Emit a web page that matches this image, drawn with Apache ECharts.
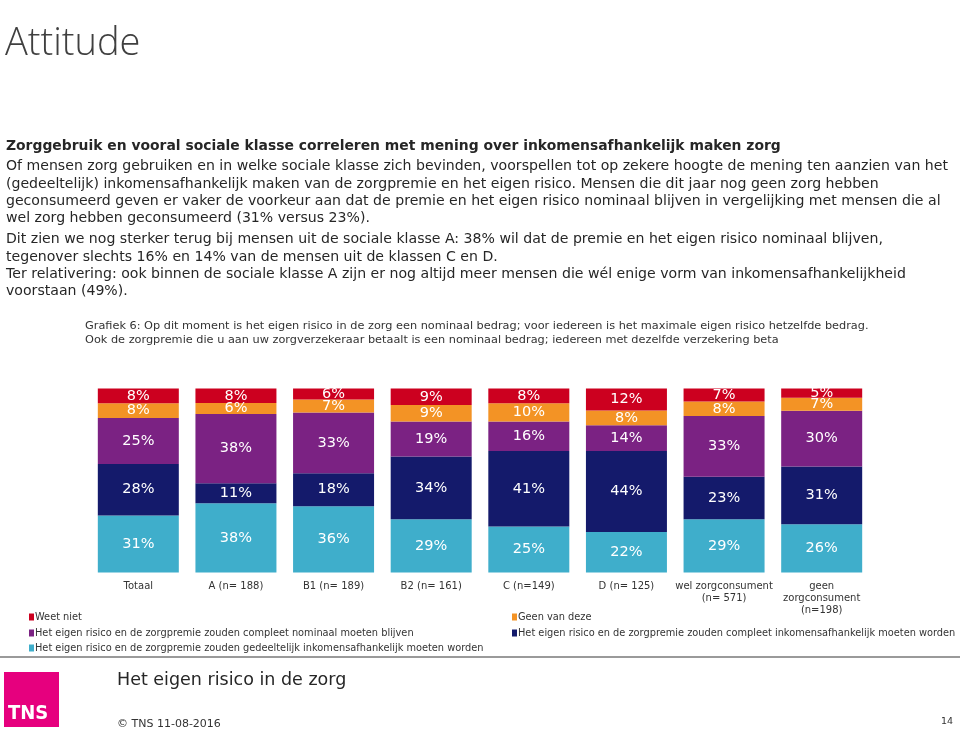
<!DOCTYPE html>
<html>
<head>
<meta charset="utf-8">
<script src="https://cdn.jsdelivr.net/npm/echarts@6/dist/echarts.min.js"></script>
<style>
html,body{margin:0;padding:0;background:#fff;}
#chart{width:960px;height:731px;}
</style>
</head>
<body>
<div id="chart"></div>
<script>
const categories = ['Totaal','A (n= 188)','B1 (n= 189)','B2 (n= 161)','C (n=149)','D (n= 125)','wel zorgconsument\n(n= 571)','geen\nzorgconsument\n(n=198)'];
const weetNiet      = [8, 8, 6, 9, 8, 12, 7, 5];
const geenVanDeze   = [8, 6, 7, 9, 10, 8, 8, 7];
const nominaal      = [25, 38, 33, 19, 16, 14, 33, 30];
const inkomensafh   = [28, 11, 18, 34, 41, 44, 23, 31];
const gedeeltelijk  = [31, 38, 36, 29, 25, 22, 29, 26];

const seriesNames = [
  'Het eigen risico en de zorgpremie zouden gedeeltelijk inkomensafhankelijk moeten worden',
  'Het eigen risico en de zorgpremie zouden compleet inkomensafhankelijk moeten worden',
  'Het eigen risico en de zorgpremie zouden compleet nominaal moeten blijven',
  'Geen van deze',
  'Weet niet'
];
const seriesValues = [gedeeltelijk, inkomensafh, nominaal, geenVanDeze, weetNiet];
const seriesColors = ['#3FAECB', '#141A6B', '#7B2283', '#F39325', '#CC001F'];

// 100% stacked: each column normalised to its own total
const totals = categories.map((c, i) => seriesValues.reduce((s, arr) => s + arr[i], 0));

const bodyFont = '"DejaVu Sans", Verdana, sans-serif';

const series = seriesValues.map((vals, k) => ({
  name: seriesNames[k],
  type: 'bar',
  stack: 'total',
  barWidth: 81,
  itemStyle: { color: seriesColors[k] },
  label: {
    show: true,
    position: 'inside',
    color: '#fff',
    fontFamily: bodyFont,
    fontSize: 14.5,
    formatter: p => vals[p.dataIndex] + '%'
  },
  emphasis: { disabled: true },
  data: vals.map((v, i) => ({ value: v / totals[i] * 100 }))
}));

function legendAt(name, left, top) {
  return {
    data: [name],
    left: left, top: top,
    orient: 'horizontal',
    icon: 'rect',
    itemWidth: 5, itemHeight: 7,
    selectedMode: false,
    textStyle: { fontFamily: bodyFont, fontSize: 9.8, color: '#333', padding: [0,0,0,-4] }
  };
}

function txt(text, x, y, size, opts) {
  opts = opts || {};
  return {
    type: 'text', left: x, top: y - size * 0.6,
    style: {
      text: text,
      fontFamily: opts.family || bodyFont,
      fontSize: size,
      fontWeight: opts.weight || 'normal',
      fill: opts.color || '#262626'
    }
  };
}

const para = [
  ['Of mensen zorg gebruiken en in welke sociale klasse zich bevinden, voorspellen tot op zekere hoogte de mening ten aanzien van het', 167],
  ['(gedeeltelijk) inkomensafhankelijk maken van de zorgpremie en het eigen risico. Mensen die dit jaar nog geen zorg hebben', 185],
  ['geconsumeerd geven er vaker de voorkeur aan dat de premie en het eigen risico nominaal blijven in vergelijking met mensen die al', 202],
  ['wel zorg hebben geconsumeerd (31% versus 23%).', 219],
  ['Dit zien we nog sterker terug bij mensen uit de sociale klasse A: 38% wil dat de premie en het eigen risico nominaal blijven,', 240],
  ['tegenover slechts 16% en 14% van de mensen uit de klassen C en D.', 258],
  ['Ter relativering: ook binnen de sociale klasse A zijn er nog altijd meer mensen die wél enige vorm van inkomensafhankelijkheid', 275],
  ['voorstaan (49%).', 292]
];

const graphic = [
  txt('Attitude', 5, 48, 38, { family: '"Open Sans", "DejaVu Sans", sans-serif', weight: 300, color: '#404040' }),
  txt('Zorggebruik en vooral sociale klasse correleren met mening over inkomensafhankelijk maken zorg', 6, 148, 13.9, { weight: 'bold' })
].concat(para.map(p => txt(p[0], 6, p[1] + 1, 14.1)))
.concat([
  txt('Grafiek 6: Op dit moment is het eigen risico in de zorg een nominaal bedrag; voor iedereen is het maximale eigen risico hetzelfde bedrag.', 85, 327, 11.3, { color: '#333' }),
  txt('Ook de zorgpremie die u aan uw zorgverzekeraar betaalt is een nominaal bedrag; iedereen met dezelfde verzekering beta', 85, 341, 11.3, { color: '#333' }),
  { type: 'rect', shape: { x: 0, y: 656, width: 960, height: 2 }, style: { fill: '#9a9a9a' } },
  { type: 'rect', shape: { x: 4, y: 672, width: 55, height: 55 }, style: { fill: '#E6007E' } },
  txt('TNS', 8, 716, 20, { family: '"DejaVu Sans Condensed", "DejaVu Sans", sans-serif', weight: 'bold', color: '#fff' }),
  txt('Het eigen risico in de zorg', 117, 682, 17.5, { color: '#262626' }),
  txt('© TNS 11-08-2016', 117, 725, 11, { color: '#333' }),
  txt('14', 941, 722, 9.5, { color: '#333' })
]);

const chart = echarts.init(document.getElementById('chart'), null, { renderer: 'canvas' });
chart.setOption({
  backgroundColor: '#fff',
  animation: false,
  grid: { left: 89.5, top: 388.5, width: 781, height: 184, containLabel: false },
  xAxis: {
    type: 'category',
    data: categories,
    axisLine: { show: false },
    axisTick: { show: false },
    axisLabel: { color: '#333', fontFamily: bodyFont, fontSize: 10, margin: 8, interval: 0, lineHeight: 12 }
  },
  yAxis: { type: 'value', min: 0, max: 100, show: false, splitLine: { show: false } },
  legend: [
    legendAt(seriesNames[4], 24, 607),
    legendAt(seriesNames[3], 507, 607),
    legendAt(seriesNames[2], 24, 623),
    legendAt(seriesNames[1], 507, 623),
    legendAt(seriesNames[0], 24, 638)
  ],
  series: series,
  graphic: graphic
});
</script>
</body>
</html>
